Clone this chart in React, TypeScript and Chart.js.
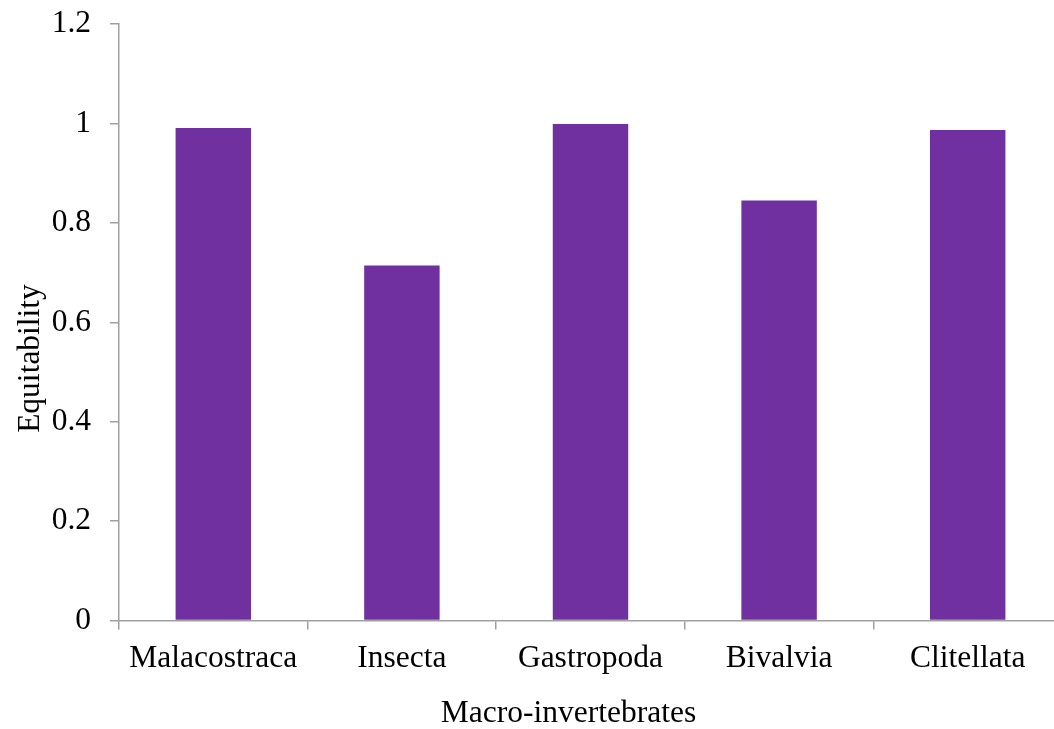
import React, { useEffect, useRef } from "react";
import { Chart, registerables } from "chart.js";

Chart.register(...registerables);

const categories = ["Malacostraca", "Insecta", "Gastropoda", "Bivalvia", "Clitellata"];
const equitability = [0.991, 0.714, 0.999, 0.845, 0.987];
const yTicks = [0, 0.2, 0.4, 0.6, 0.8, 1, 1.2];
const xTitle = "Macro-invertebrates";
const yTitle = "Equitability";

const FONT = "Liberation Serif";
const FONT_SIZE = 31.5;
const AXIS_COLOR = "#a0a0a0";
const CANVAS_W = 1070;
const CANVAS_H = 729;

const titlePlugin = {
  id: "customTitles",
  afterDraw(chart: any) {
    const ctx = chart.ctx;
    ctx.save();
    ctx.fillStyle = "#000";
    ctx.font = `${FONT_SIZE}px "${FONT}"`;
    ctx.textAlign = "center";
    ctx.textBaseline = "alphabetic";
    ctx.fillText(xTitle, 568.5, 721.5);
    ctx.translate(38.5, 358.5);
    ctx.rotate(-Math.PI / 2);
    ctx.fillText(yTitle, 0, 0);
    ctx.restore();
  },
};

export default function App() {
  const ref = useRef<HTMLCanvasElement>(null);
  useEffect(() => {
    if (!ref.current) return;
    const chart = new Chart(ref.current, {
      type: "bar",
      data: {
        labels: categories,
        datasets: [
          {
            data: equitability,
            backgroundColor: "#7030A0",
            borderWidth: 0,
            barPercentage: 0.4,
            categoryPercentage: 1,
          },
        ],
      },
      options: {
        animation: false,
        responsive: false,
        devicePixelRatio: 1,
        layout: { padding: { top: 24, right: CANVAS_W - 1062, left: 0, bottom: 0 } },
        plugins: { legend: { display: false }, tooltip: { enabled: false } },
        scales: {
          x: {
            grid: {
              offset: true,
              drawOnChartArea: false,
              drawTicks: true,
              tickLength: 9,
              color: AXIS_COLOR,
              lineWidth: 1.5,
            },
            border: { color: AXIS_COLOR, width: 1.5 },
            ticks: {
              color: "#000",
              font: { family: FONT, size: FONT_SIZE },
              padding: 10,
              maxRotation: 0,
              autoSkip: false,
            },
            afterFit(scale: any) {
              scale.height = CANVAS_H - 620.5;
              scale.paddingLeft = 0;
              scale.paddingRight = 0;
            },
          },
          y: {
            min: 0,
            max: 1.2,
            afterBuildTicks(scale: any) {
              scale.ticks = yTicks.map((v) => ({ value: v }));
            },
            grid: {
              drawOnChartArea: false,
              drawTicks: true,
              tickLength: 9,
              color: AXIS_COLOR,
              lineWidth: 1.5,
            },
            border: { color: AXIS_COLOR, width: 1.5 },
            ticks: {
              color: "#000",
              font: { family: FONT, size: FONT_SIZE },
              padding: 19,
              callback: (v: any) => String(Number(Number(v).toFixed(1))),
            },
            afterFit(scale: any) {
              scale.width = 119;
              scale.paddingTop = 0;
              scale.paddingBottom = 0;
            },
          },
        },
      },
      plugins: [titlePlugin],
    });
    return () => chart.destroy();
  }, []);
  return (
    <div
      style={{
        position: "fixed",
        left: 0,
        top: 0,
        width: CANVAS_W,
        height: CANVAS_H,
        overflow: "hidden",
        background: "#fff",
      }}
    >
      <canvas ref={ref} width={CANVAS_W} height={CANVAS_H} style={{ display: "block" }} />
    </div>
  );
}
